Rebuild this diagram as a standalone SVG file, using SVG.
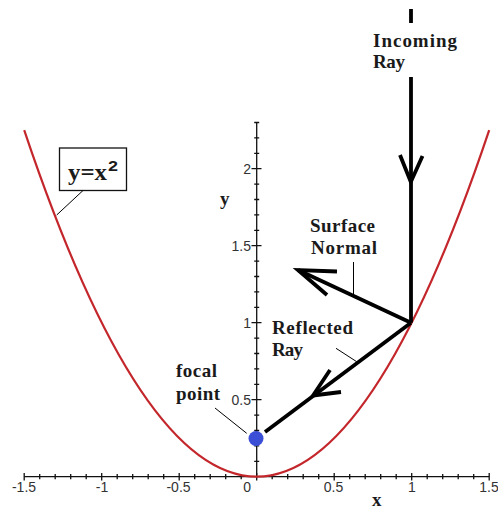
<svg xmlns="http://www.w3.org/2000/svg" width="498" height="510" viewBox="0 0 498 510">
<style>
.ax{stroke:#111;stroke-width:1.3;fill:none}
.tk{font-family:"Liberation Sans",Arial,sans-serif;font-size:14px;fill:#333}
.lb{font-family:"Liberation Serif","Times New Roman",serif;font-weight:bold;font-size:19px;fill:#1a1a1a}
.ray{stroke:#000;stroke-width:3.8;fill:none;stroke-linecap:butt;stroke-linejoin:miter}
.ld{stroke:#000;stroke-width:1;fill:none}
</style>
<rect width="498" height="510" fill="#fff"/>
<g id="axes">
<path class="ax" d="M24.2 476.7H489.2M256.7 476.7V122.5"/>
<path class="ax" d="M39.7 474v5.3M55.2 474v5.3M70.7 474v5.3M86.2 474v5.3M117.2 474v5.3M132.7 474v5.3M148.2 474v5.3M163.7 474v5.3M194.7 474v5.3M210.2 474v5.3M225.7 474v5.3M241.2 474v5.3M272.2 474v5.3M287.7 474v5.3M303.2 474v5.3M318.7 474v5.3M349.7 474v5.3M365.2 474v5.3M380.7 474v5.3M396.2 474v5.3M427.2 474v5.3M442.7 474v5.3M458.2 474v5.3M473.7 474v5.3"/>
<path class="ax" d="M24.2 473v7.5M101.7 473v7.5M179.2 473v7.5M256.7 473v7.5M334.2 473v7.5M411.7 473v7.5M489.2 473v7.5"/>
<path class="ax" d="M254.2 461.3h5M254.2 445.9h5M254.2 430.5h5M254.2 415.1h5M254.2 384.3h5M254.2 368.9h5M254.2 353.5h5M254.2 338.1h5M254.2 307.3h5M254.2 291.9h5M254.2 276.5h5M254.2 261.1h5M254.2 230.3h5M254.2 214.9h5M254.2 199.5h5M254.2 184.1h5M254.2 153.3h5M254.2 137.9h5M254.2 122.5h5"/>
<path class="ax" d="M251.5 399.7h10M251.5 322.7h10M251.5 245.7h10M251.5 168.7h10"/>
<g class="tk" text-anchor="middle">
<text x="24" y="492">-1.5</text>
<text x="102" y="492">-1</text>
<text x="178.5" y="492">-0.5</text>
<text x="333.5" y="492">0.5</text>
<text x="412" y="492">1</text>
<text x="489" y="492">1.5</text>
</g>
<g class="tk" text-anchor="end">
<text x="251" y="492">0</text>
<text x="251" y="404.5">0.5</text>
<text x="251" y="327.5">1</text>
<text x="251" y="250.5">1.5</text>
<text x="251" y="173.5">2</text>
</g>
<text class="lb" x="220" y="205">y</text>
<text class="lb" x="372" y="506">x</text>
</g>
<g id="parabola">
<path d="M24.2 130.2Q256.7 823.2 489.2 130.2" fill="none" stroke="#c3262b" stroke-width="2.2"/>
</g>
<g id="curve-label">
<rect x="59.5" y="148" width="67" height="42.5" fill="#fff" stroke="#111" stroke-width="1.3"/>
<text x="68" y="180" font-family="'Liberation Serif','Times New Roman',serif" font-weight="bold" font-size="24" fill="#1a1a1a" textLength="39" lengthAdjust="spacingAndGlyphs">y=x</text>
<text x="108" y="171" font-family="'Liberation Sans',Arial,sans-serif" font-weight="bold" font-size="14" fill="#1a1a1a" textLength="10" lengthAdjust="spacingAndGlyphs">2</text>
</g>
<g id="focal-point">
<circle cx="256" cy="438.5" r="7.5" fill="#3a4fd6"/>
<text class="lb" x="176" y="377" textLength="41">focal</text>
<text class="lb" x="176" y="400" textLength="44">point</text>
</g>
<g id="incoming-label">
<text class="lb" x="373" y="47" textLength="84">Incoming</text>
<text class="lb" x="373" y="68" textLength="32">Ray</text>
</g>
<g id="normal-label">
<text class="lb" x="310" y="231.5" textLength="65">Surface</text>
<text class="lb" x="311" y="254" textLength="66">Normal</text>
</g>
<g id="reflected-label">
<text class="lb" x="272" y="334" textLength="81">Reflected</text>
<text class="lb" x="272" y="356" textLength="31">Ray</text>
</g>
<g id="connectors">
<path class="ray" d="M411 9V23M411 77V322.7"/>
<path class="ray" d="M400 155L410.8 182L422.5 156"/>
<path class="ray" d="M411 322.7L298 270"/>
<path class="ray" d="M337 271.5L298 270L327 295"/>
<path class="ray" d="M411 322.7L265 432"/>
<path class="ray" d="M330 370L313 395.5L341 392"/>
<path class="ld" d="M83 190.5L56.7 215"/>
<path class="ld" d="M353.5 262V294.5"/>
<path class="ld" d="M336 348.3L356.7 361.7"/>
<path class="ld" d="M215 408L246.7 433.3"/>
</g>
</svg>
